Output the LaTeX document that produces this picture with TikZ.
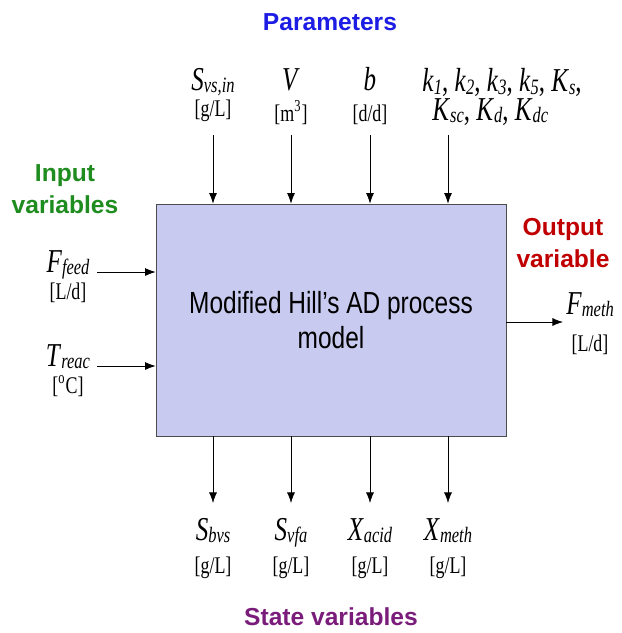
\documentclass[tikz,border=0pt]{standalone}
\usepackage{fontspec}
\setmainfont[FakeStretch=0.75]{Liberation Serif}
\setsansfont{Liberation Sans}
\newfontfamily\boxfont[FakeStretch=0.8]{Liberation Sans}
\usepackage{tikz}
\usetikzlibrary{positioning,arrows.meta}
\definecolor{parblue}{RGB}{28,28,228}
\definecolor{ingreen}{RGB}{30,140,30}
\definecolor{outred}{RGB}{192,0,0}
\definecolor{statepurple}{RGB}{122,28,122}
\definecolor{modelfill}{RGB}{200,202,240}
\newcommand{\var}[2]{\textit{#1}\raisebox{-0.08em}{\fontsize{12.5}{13}\selectfont\textit{#2}}}

\begin{document}
\begin{tikzpicture}[x=0.02cm,y=-0.02cm,>={Latex[length=6pt,width=4.5pt]},
    varlabel/.style={font=\fontsize{19}{21}\selectfont, inner sep=0pt},
    unitlabel/.style={font=\fontsize{13.6}{15}\selectfont, inner sep=0pt},
    heading/.style={font=\sffamily\bfseries\fontsize{14}{18}\selectfont, align=center, inner sep=0pt}]
    \useasboundingbox (0,0) rectangle (622,633);
    % Model
    \node[draw=black!70, fill=modelfill, minimum width=7cm, minimum height=4.64cm,
        align=center, font=\boxfont\fontsize{17.4}{20.4}\selectfont] (Model) at (331,320)
        {Modified Hill’s AD process\\model};
    % Parameters
    \node[heading, text=parblue] (Parameters) at (330,22) {Parameters};
    \foreach \name/\unit/\x/\i in {{\var{S}{vs,in}}/{[g/L]}/213/1,{\textit{V}}/{[m\textsuperscript{3}]}/291/2,{\textit{b}}/{[d/d]}/370/3} {
        \node[varlabel, anchor=base] (Param-\i) at (\x,90) {\name};
        \ifnum \i=1
            \node[unitlabel, anchor=base] (ParamUnit-\i) at (\x,116) {\unit};
        \else
            \node[unitlabel, anchor=base] (ParamUnit-\i) at (\x,121) {\unit};
        \fi
    }
    \node[varlabel, anchor=north west, align=left, font=\fontsize{19}{14.2}\selectfont] (Param-4) at (422,68)
        {\var{k}{1}, \var{k}{2}, \var{k}{3}, \var{k}{5}, \var{K}{s},\\
         \hspace*{5.7pt}\var{K}{sc}, \var{K}{d}, \var{K}{dc}};
    % Input variables
    \node[heading, text=ingreen] (Inputs) at (65,189) {Input\\variables};
    \foreach \name/\unit/\y/\i in {{\var{F}{feed}}/{[L/d]}/272/1,{\var{T}{reac}}/{[\textsuperscript{o}C]}/366/2} {
        \coordinate (Feed-\i) at (97,\y);
        \node[varlabel, anchor=base] (Input-\i) at (68,\y) {\name};
        \node[unitlabel, anchor=base] (InputUnit-\i) at (68,\y+27) {\unit};
    }
    % Output variable
    \node[heading, text=outred] (Outputs) at (563,243) {Output\\variable};
    \coordinate (Meth) at (563,322);
    \node[varlabel, anchor=base west] (Output-1) at (566,314) {\var{F}{meth}};
    \node[unitlabel, anchor=base] (OutputUnit-1) at (590,351) {[L/d]};
    % State variables
    \node[heading, text=statepurple] (States) at (331,617) {State variables};
    \foreach \name/\x/\i in {{\var{S}{bvs}}/213/1,{\var{S}{vfa}}/291/2,{\var{X}{acid}}/370/3,{\var{X}{meth}}/448/4} {
        \coordinate (StateOut-\i) at (\x,503);
        \node[varlabel, anchor=base] (State-\i) at (\x,540) {\name};
        \node[unitlabel, anchor=base] (StateUnit-\i) at (\x,573) {[g/L]};
    }
    % Arrows
    \foreach \x/\i in {213/1,291/2,370/3,448/4} {
        \coordinate (ParamIn-\i) at (\x,135);
        \draw[->] (ParamIn-\i) -- (ParamIn-\i |- Model.north);
    }
    \foreach \i in {1,2} {
        \draw[->] (Feed-\i) -- (Feed-\i -| Model.west);
    }
    \draw[->] (Meth -| Model.east) -- (Meth);
    \foreach \i in {1,2,3,4} {
        \draw[->] (StateOut-\i |- Model.south) -- (StateOut-\i);
    }
\end{tikzpicture}
\end{document}
